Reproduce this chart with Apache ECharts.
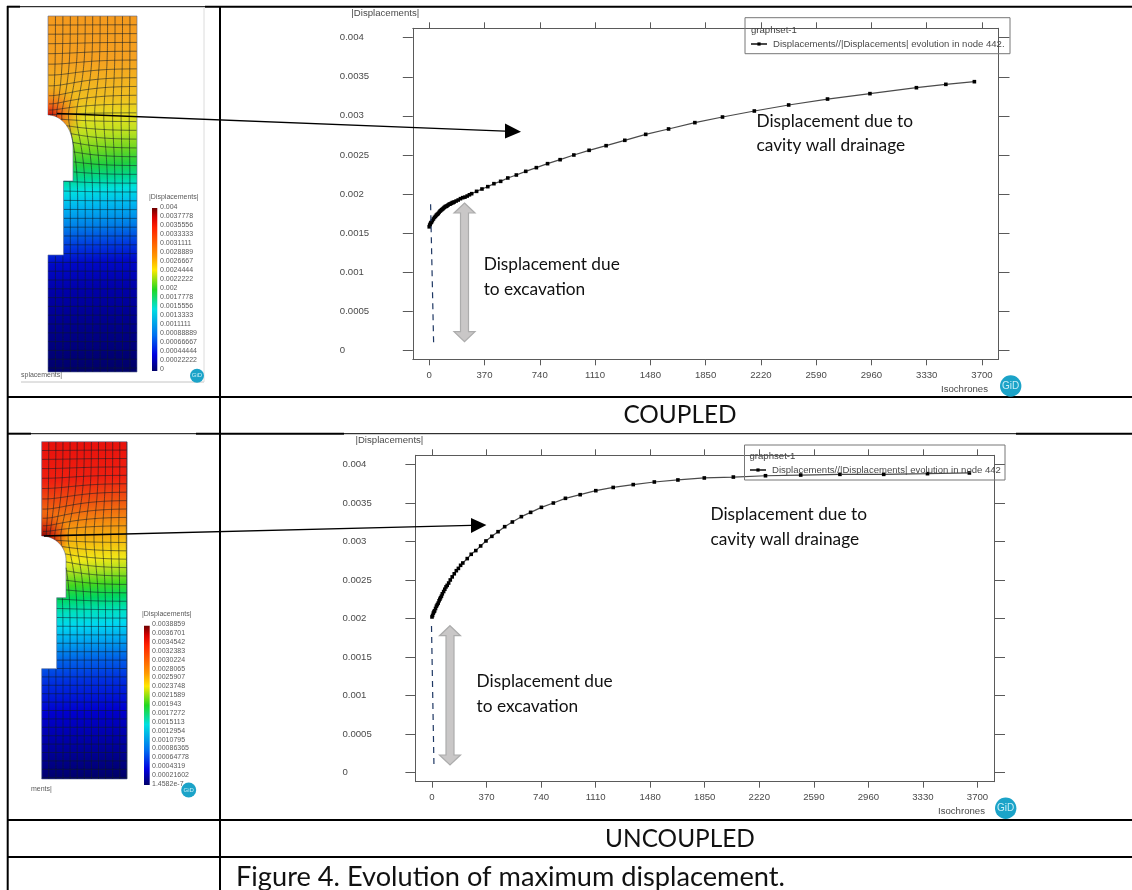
<!DOCTYPE html>
<html><head><meta charset="utf-8">
<style>html,body{margin:0;padding:0;background:#fff}#c{width:1132px;height:890px}</style>
<script src="https://cdn.jsdelivr.net/npm/echarts@6/dist/echarts.min.js"></script>
</head><body><div id="c"></div>
<script>
const xTickValues=[0,370,740,1110,1480,1850,2220,2590,2960,3330,3700];
const yTickValues=[0,0.0005,0.001,0.0015,0.002,0.0025,0.003,0.0035,0.004];
const coupledTime=[0,3,6,10,15,21,28,35,42,48,54,60,66,72,78,84,90,96,102,108,114,120,127,134,140,147,154,160,167,180,194,209,224,239,254,269,284,317,353,392,433,478,526,583,646,717,792,876,968,1070,1184,1309,1449,1602,1778,1963,2176,2406,2666,2950,3261,3458,3649];
const coupledDisp=[0.00158,0.0016,0.001612,0.00163,0.00164,0.001659,0.00168,0.0017,0.001714,0.00173,0.00174,0.00175,0.001765,0.00178,0.00179,0.0018,0.001808,0.00182,0.00183,0.00184,0.001842,0.00185,0.00186,0.00187,0.001872,0.00188,0.00189,0.00189,0.001898,0.00191,0.001923,0.00194,0.001953,0.00196,0.001974,0.00199,0.002004,0.002034,0.002064,0.002094,0.002132,0.002162,0.002205,0.002243,0.00229,0.002337,0.002388,0.002439,0.002499,0.002559,0.002618,0.002687,0.002763,0.002832,0.002913,0.002985,0.003062,0.003139,0.003215,0.003284,0.00336,0.003403,0.003437];
const uncoupledTime=[0,4,9,14,18,24,30,36,42,48,53,58,64,70,79,87,95,103,113,124,137,151,165,179,194,209,239,266,297,330,366,406,448,493,545,606,669,742,823,905,1005,1111,1229,1365,1508,1668,1847,2044,2262,2501,2767,3064,3361,3645];
const uncoupledDisp=[0.00202,0.00204,0.00207,0.00209,0.0021,0.00213,0.00216,0.00218,0.0022,0.00223,0.00225,0.00227,0.00229,0.00232,0.00235,0.00238,0.00241,0.00243,0.00246,0.0025,0.00254,0.00258,0.00262,0.00265,0.00269,0.00272,0.002777,0.002833,0.002881,0.002941,0.003006,0.003066,0.003126,0.003191,0.003252,0.003321,0.003377,0.003442,0.003498,0.003559,0.003606,0.003658,0.0037,0.003737,0.003771,0.003797,0.003823,0.003835,0.003852,0.003861,0.00387,0.00387,0.003879,0.003888];
const legendCoupled='Displacements//|Displacements| evolution in node 442.';
const legendUncoupled='Displacements//|Displacements| evolution in node 442';
const colorbar1Labels=['0.004','0.0037778','0.0035556','0.0033333','0.0031111','0.0028889','0.0026667','0.0024444','0.0022222','0.002','0.0017778','0.0015556','0.0013333','0.0011111','0.00088889','0.00066667','0.00044444','0.00022222','0'];
const colorbar2Labels=['0.0038859','0.0036701','0.0034542','0.0032383','0.0030224','0.0028065','0.0025907','0.0023748','0.0021589','0.001943','0.0017272','0.0015113','0.0012954','0.0010795','0.00086365','0.00064778','0.0004319','0.00021602','1.4582e-7'];

const chart=echarts.init(document.getElementById('c'),null,{renderer:'canvas'});
const AX='#5a5a5a', LBL='#4a4a4a', FF='"Liberation Sans",Arial,sans-serif', CAL='Lato,"Open Sans",sans-serif';
const zip=(a,b)=>a.map((v,i)=>[v,b[i]]);
const G=[];

function txt(x,y,s,size,fill,font,extra){G.push({type:'text',x,y,z:20,style:Object.assign({text:s,fontSize:size,fontFamily:font||FF,fill:fill||LBL,verticalAlign:'middle'},extra||{})});}
function seg(x1,y1,x2,y2,w,c,extra){G.push({type:'line',z:18,shape:{x1,y1,x2,y2},style:Object.assign({stroke:c||'#000',lineWidth:w||1},extra||{})});}

/* ---- table rules ---- */
seg(7.7,6,7.7,890,2);seg(220,6,220,890,2);
seg(7,6.7,20,6.7,2);seg(20,6.7,205,6.7,1);seg(205,6.7,1132,6.7,2);
seg(7,397,1132,397,2);
seg(7,433.7,31,433.7,2);seg(31,433.7,196,433.7,1);seg(196,433.7,344,433.7,2);seg(344,433.7,1016,433.7,1);seg(1016,433.7,1132,433.7,2);
seg(7,820,1132,820,2);seg(7,857,1132,857,2);

/* ---- FE panels ---- */
function outline(L,R,T,B,st,sx,sy,cx,cr,cy0,cy1){
  const pts=[[L,T],[R,T],[R,B],[L,B],[L,st],[sx,st],[sx,sy],[cx,sy],[cx,cy1]];
  for(let i=1;i<=24;i++){const t=(1-i/24)*Math.PI/2; pts.push([L+cr*Math.sin(t),cy1-(cy1-cy0)*Math.cos(t)]);}
  return pts;
}
function inside(pts,x,y){let c=false;for(let i=0,j=pts.length-1;i<pts.length;j=i++){const a=pts[i],b=pts[j];if((a[1]>y)!==(b[1]>y)&&x<(b[0]-a[0])*(y-a[1])/(b[1]-a[1])+a[0])c=!c;}return c;}
function panel(pts,stops,corner,L,R,T,B,dx,dy){
  G.push({type:'polygon',z:2,shape:{points:pts},style:{fill:{type:'linear',x:0.38,y:0,x2:0.62,y2:1,colorStops:stops},stroke:'#5a6a90',lineWidth:.6}});
  G.push({type:'polygon',z:3,shape:{points:pts},style:{fill:{type:'radial',x:corner[0],y:corner[1],r:corner[2],global:true,colorStops:corner[3]}}});
  const warp=(x,y)=>{const ddx=corner[0]-x,ddy=corner[1]-y,d2=ddx*ddx+ddy*ddy,k=.55*Math.exp(-d2/(2*28*28));return [x+ddx*k,y+ddy*k];};
  const emit=c=>{if(c.length>1)G.push({type:'polyline',z:4,shape:{points:c},style:{stroke:'#101c28',lineWidth:.8,opacity:.72,fill:null}});};
  const run=(gen,n)=>{let cur=[];for(let i=0;i<=n;i++){const p=gen(i/n);const q=warp(p[0],p[1]);if(inside(pts,q[0],q[1])){cur.push(q);}else{emit(cur);cur=[];}}emit(cur);};
  for(let x=L+dx;x<R;x+=dx)run(t=>[x,T+.3+(B-T-.6)*t],200);
  for(let y=T+dy;y<B;y+=dy)run(t=>[L+.3+(R-L-.6)*t,y],90);
}
const JET=[{offset:0,color:'#6e0000'},{offset:.06,color:'#d80000'},{offset:.12,color:'#ff2000'},{offset:.3,color:'#ff9a00'},{offset:.38,color:'#ffe800'},{offset:.5,color:'#20d820'},{offset:.62,color:'#00e0e0'},{offset:.78,color:'#0070f0'},{offset:.9,color:'#0000e0'},{offset:1,color:'#00006a'}];
function stopsFrom(T,B,arr){return arr.map(a=>({offset:(a[0]-T)/(B-T),color:a[1]}));}
const p1=outline(48,137,16,372,255,63.5,181,73,25,115,147);
panel(p1,stopsFrom(16,372,[[16,'#f59a1e'],[60,'#f5a020'],[100,'#f0c020'],[118,'#e6e020'],[135,'#b8e020'],[150,'#70d820'],[165,'#20d040'],[178,'#00d890'],[190,'#00e0e0'],[205,'#00b8f0'],[225,'#0080e8'],[245,'#0038e0'],[262,'#0008c8'],[290,'#0000a8'],[330,'#000088'],[372,'#000068']]),
  [50,116,34,[{offset:0,color:'rgba(190,10,10,1)'},{offset:.3,color:'rgba(240,70,20,.8)'},{offset:1,color:'rgba(245,150,20,0)'}]],48,137,16,372,7.45,8.8);
const p2=outline(41.7,127,441.7,779,668.7,56.7,597.7,66,24.3,536,560);
panel(p2,stopsFrom(441.7,779,[[442,'#e8100c'],[480,'#f02010'],[505,'#f05a10'],[525,'#f59010'],[545,'#f5c010'],[560,'#f0e818'],[572,'#a8e020'],[585,'#40d820'],[598,'#00d860'],[612,'#00e0c0'],[625,'#00d8f0'],[640,'#00a8f0'],[660,'#0060e8'],[680,'#0030e0'],[710,'#0000d0'],[745,'#0000a0'],[779,'#000068']]),
  [44,537,26,[{offset:0,color:'rgba(130,0,0,1)'},{offset:.4,color:'rgba(200,10,10,.7)'},{offset:1,color:'rgba(240,40,10,0)'}]],41.7,127,441.7,779,7.1,8.4);

function cbar(x,y,w,h){G.push({type:'rect',z:5,shape:{x,y,width:w,height:h},style:{fill:{type:'linear',x:0,y:0,x2:0,y2:1,colorStops:JET}}});}
function cLabels(x,y0,y1,labels){labels.forEach((s,i)=>txt(x,y0+(y1-y0)*i/(labels.length-1),s,7,'#5a5a5a'));}
cbar(152,208,5.3,163);cLabels(160,207,369,colorbar1Labels);txt(149,197,'|Displacements|',7,'#5a5a5a');
cbar(144,625.7,5.7,159.3);cLabels(152,624.3,784,colorbar2Labels);txt(142,614,'|Displacements|',7,'#5a5a5a');
txt(21,375,'splacements|',7,'#5a5a5a');txt(31,789,'ments|',7,'#5a5a5a');
seg(21,382,204,382,1,'#c4c4c4');seg(204,7,204,382,1,'#dcdcdc');

function gid(cx,cy,r,size){G.push({type:'circle',z:19,shape:{cx,cy,r},style:{fill:'#1ba3c8'}});
  G.push({type:'text',x:cx,y:cy,z:20,style:{text:'GiD',fontSize:size,fontFamily:FF,fill:'#c8eef7',align:'center',verticalAlign:'middle'}});}
gid(197,375.7,7,6);gid(188.7,790,7.5,6);gid(1010.7,386,10.7,10);gid(1005.7,808.3,10.7,10);

/* ---- annotations ---- */
function arrow(x1,y1,x2,y2,baseX,hh){const by=y1+(y2-y1)*(baseX-x1)/(x2-x1);seg(x1,y1,baseX,by,1.3,'#000');
  G.push({type:'polygon',z:18,shape:{points:[[x2,y2],[baseX,by-hh],[baseX,by+hh]]},style:{fill:'#000'}});}
arrow(57,113.5,521,131.7,505,7.5);
arrow(44,536,486.4,525,471,7.5);
function dbl(cx,y0,y1){const hw=10.5,sw=4,hh=10;G.push({type:'polygon',z:18,shape:{points:[[cx,y0],[cx+hw,y0+hh],[cx+sw,y0+hh],[cx+sw,y1-hh],[cx+hw,y1-hh],[cx,y1],[cx-hw,y1-hh],[cx-sw,y1-hh],[cx-sw,y0+hh],[cx-hw,y0+hh]]},style:{fill:'#c9c7c7',stroke:'#acacac',lineWidth:1.2}});}
dbl(464.5,203,341.7);dbl(450,625.7,765);
seg(430.6,204.3,433.7,346.7,1.2,'#1f3864',{lineDash:[6,5]});
seg(431.5,626,434,767.7,1.2,'#1f3864',{lineDash:[6,5]});
const AF=17.3;
txt(756.5,121.7,'Displacement due to',AF,'#111',CAL);txt(756.5,145.7,'cavity wall drainage',AF,'#111',CAL);
txt(483.7,264,'Displacement due',AF,'#111',CAL);txt(483.7,289.3,'to excavation',AF,'#111',CAL);
txt(710.5,514,'Displacement due to',AF,'#111',CAL);txt(710.5,539,'cavity wall drainage',AF,'#111',CAL);
txt(476.6,681,'Displacement due',AF,'#111',CAL);txt(476.6,706.7,'to excavation',AF,'#111',CAL);
txt(680,415.5,'COUPLED',24.4,'#111',CAL,{align:'center'});
txt(680,839,'UNCOUPLED',24.4,'#111',CAL,{align:'center'});
txt(236,877,'Figure 4. Evolution of maximum displacement.',27.2,'#111',CAL);
txt(941,389,'Isochrones',9.6,LBL);txt(938,811.7,'Isochrones',9.6,LBL);

/* ---- legend frames ---- */
G.push({type:'rect',z:16,shape:{x:745,y:17.7,width:265,height:36},style:{fill:null,stroke:'#777',lineWidth:1}});
G.push({type:'rect',z:16,shape:{x:744.5,y:445,width:260.5,height:35},style:{fill:null,stroke:'#777',lineWidth:1}});
txt(751,30,'graphset-1',9.6,'#444');txt(749.5,456.7,'graphset-1',9.6,'#444');

/* ---- axes ---- */
const fmt=v=>String(v);
function xA(grid,min,max,top){return {type:'value',gridIndex:grid,min,max,position:top?'top':'bottom',splitLine:{show:false},
  axisLine:{show:true,onZero:false,lineStyle:{color:AX,width:1}},axisTick:{show:true,length:6,inside:false,customValues:xTickValues,lineStyle:{color:AX}},
  axisLabel:{show:!top,customValues:xTickValues,formatter:fmt,color:LBL,fontSize:9.6,fontFamily:FF,margin:11}};}
function yA(grid,min,max,right,pad){return {type:'value',gridIndex:grid,min,max,position:right?'right':'left',splitLine:{show:false},
  name:right?'':'|Displacements|',nameLocation:'end',nameGap:10,nameTextStyle:{color:LBL,fontSize:9.6,fontFamily:FF,align:'center',padding:[0,pad,0,0]},
  axisLine:{show:true,onZero:false,lineStyle:{color:AX,width:1}},axisTick:{show:true,length:right?11:10,customValues:yTickValues,lineStyle:{color:AX}},
  axisLabel:{show:!right,customValues:yTickValues,formatter:fmt,color:LBL,fontSize:9.6,fontFamily:FF,align:'left',margin:73}};}
const ser=(name,i,d)=>({name,type:'line',xAxisIndex:i,yAxisIndex:i,data:d,symbol:'rect',symbolSize:3.6,showSymbol:true,showAllSymbol:true,clip:false,animation:false,z:10,
  lineStyle:{color:'#4a4a4a',width:1.2},itemStyle:{color:'#000'}});
const leg=(name,left,top)=>({data:[name],left,top,padding:0,orient:'horizontal',itemWidth:16,itemHeight:4,itemGap:5,z:17,selectedMode:false,
  textStyle:{color:LBL,fontSize:9.55,fontFamily:FF,padding:[0,0,0,1]}});

chart.setOption({
  animation:false,backgroundColor:'#fff',
  grid:[{left:412.8,top:28.3,width:585.7,height:331,containLabel:false},{left:415.4,top:455.3,width:578.6,height:326.4,containLabel:false}],
  xAxis:[xA(0,-110,3810.5,false),xA(0,-110,3810.5,true),xA(1,-112.6,3812,false),xA(1,-112.6,3812,true)],
  yAxis:[yA(0,-0.000115,0.00412,false,55),yA(0,-0.000115,0.00412,true,0),yA(1,-0.000117,0.004117,false,52),yA(1,-0.000117,0.004117,true,0)],
  legend:[leg(legendCoupled,750,39),leg(legendUncoupled,749,465)],
  series:[ser(legendCoupled,0,zip(coupledTime,coupledDisp)),ser(legendUncoupled,2,zip(uncoupledTime,uncoupledDisp))],
  graphic:{elements:G}
});
</script></body></html>
